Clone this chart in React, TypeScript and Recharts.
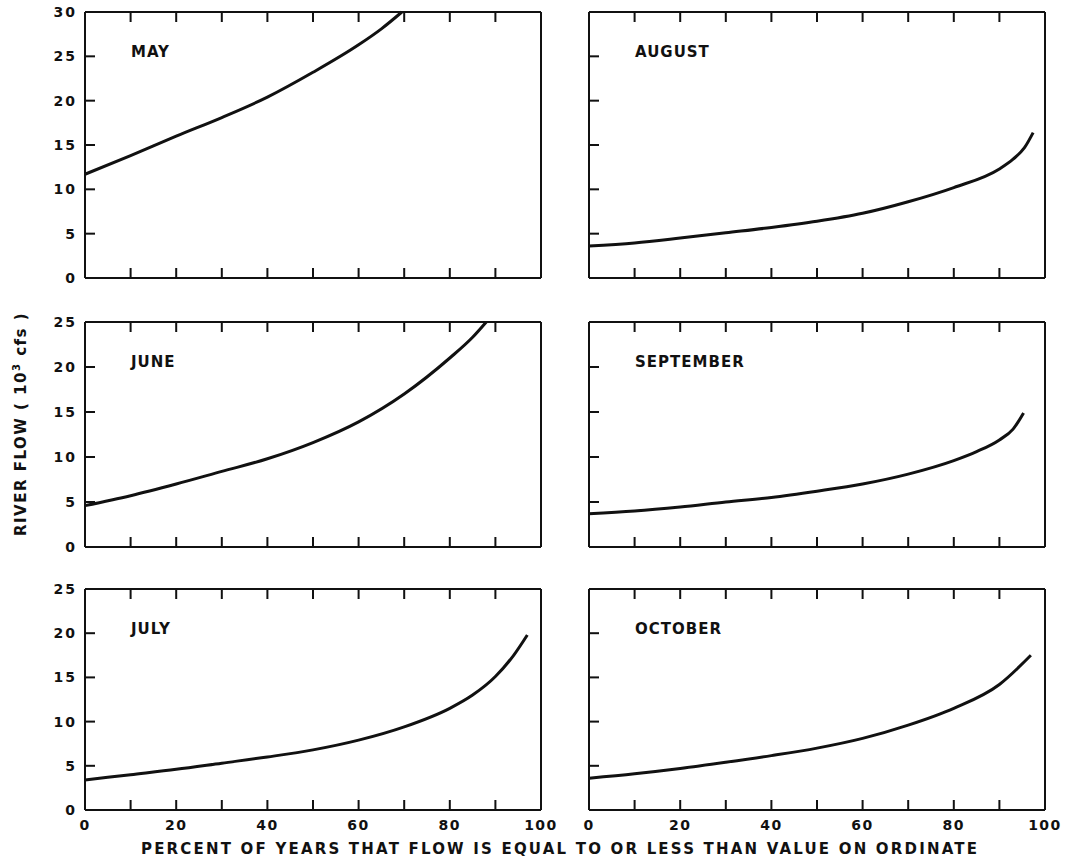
import { LineChart, Line, XAxis, YAxis } from 'recharts';

// percent of years (x) and river flow in 10^3 cfs (y)
const mayPct = [0, 10, 20, 30, 40, 50, 60, 65, 69.5];
const mayFlow = [11.7, 13.8, 16.0, 18.1, 20.4, 23.2, 26.3, 28.1, 30];

const junePct = [0, 10, 20, 30, 40, 50, 60, 70, 80, 85, 88];
const juneFlow = [4.6, 5.7, 7.0, 8.4, 9.8, 11.6, 13.9, 17.0, 21.0, 23.3, 25];

const julyPct = [0, 10, 20, 30, 40, 50, 60, 70, 80, 85, 90, 94, 97];
const julyFlow = [3.4, 4.0, 4.6, 5.3, 6.0, 6.8, 7.9, 9.4, 11.5, 13.0, 15.1, 17.5, 19.8];

const augPct = [0, 10, 20, 30, 40, 50, 60, 70, 80, 90, 93, 95.5, 97.4];
const augFlow = [3.6, 3.95, 4.5, 5.1, 5.7, 6.4, 7.3, 8.6, 10.2, 12.3, 13.4, 14.7, 16.4];

const sepPct = [0, 10, 20, 30, 40, 50, 60, 70, 80, 85, 90, 93, 95.3];
const sepFlow = [3.7, 4.0, 4.45, 5.0, 5.5, 6.2, 7.0, 8.1, 9.6, 10.6, 11.9, 13.1, 14.9];

const octPct = [0, 10, 20, 30, 40, 50, 60, 70, 80, 90, 96.9];
const octFlow = [3.6, 4.1, 4.7, 5.4, 6.15, 7.0, 8.1, 9.6, 11.5, 14.2, 17.5];

const xTicks = [0, 10, 20, 30, 40, 50, 60, 70, 80, 90, 100];
const yTicks30 = [0, 5, 10, 15, 20, 25, 30];
const yTicks25 = [0, 5, 10, 15, 20, 25];

const FONT = '"DejaVu Sans", sans-serif';
const INK = '#111';
const ML = 80;
const MR = 20;
const MT = 10;
const MB = 30;
const PW = 456;
const TICK = 10;

const toRows = (pct: number[], flow: number[]) => pct.map((p, i) => ({ pct: p, flow: flow[i] }));

type PanelProps = {
    name: string;
    pct: number[];
    flow: number[];
    left: number;
    top: number;
    height: number;
    yMax: number;
    yTicks: number[];
    showY: boolean;
    showX: boolean;
};

function Panel({ name, pct, flow, left, top, height, yMax, yTicks, showY, showX }: PanelProps) {
    const data = toRows(pct, flow);
    const w = ML + PW + MR;
    const h = MT + height + MB;
    const bottom = MT + height;
    const right = ML + PW;

    // inward tick marks at each axis tick position, labels outside the frame
    const bottomTick = (p: any) => (
        <g>
            <rect x={p.x - 1} y={bottom - TICK} width={2} height={TICK} fill={INK} />
            {showX && p.payload.value % 20 === 0 && (
                <text x={p.x} y={bottom + 20} textAnchor="middle" fontFamily={FONT} fontWeight="bold"
                    fontSize={14} letterSpacing={1.5} fill={INK}>
                    {p.payload.value}
                </text>
            )}
        </g>
    );

    const topTick = (p: any) => (
        <rect x={p.x - 1} y={MT} width={2} height={TICK} fill={INK} />
    );

    const leftTick = (p: any) => (
        <g>
            <rect x={ML} y={p.y - 1} width={TICK} height={2} fill={INK} />
            {showY && (
                <text x={ML - 8} y={p.y} dy="0.36em" textAnchor="end" fontFamily={FONT} fontWeight="bold"
                    fontSize={14} letterSpacing={2} fill={INK}>
                    {p.payload.value}
                </text>
            )}
        </g>
    );

    const rightTick = (p: any) => (
        <rect x={right - TICK} y={p.y - 1} width={TICK} height={2} fill={INK} />
    );

    const common = {
        stroke: INK,
        strokeWidth: 2,
        tickLine: false,
        interval: 0 as const,
        mirror: true,
        type: 'number' as const,
    };

    return (
        <div style={{ position: 'absolute', left: left - ML, top: top - MT }}>
            <LineChart width={w} height={h} data={data} margin={{ top: MT, right: MR, bottom: MB, left: ML }}>
                <XAxis xAxisId="b" dataKey="pct" orientation="bottom" domain={[0, 100]} ticks={xTicks}
                    tick={bottomTick} {...common} />
                <XAxis xAxisId="t" dataKey="pct" orientation="top" domain={[0, 100]} ticks={xTicks}
                    tick={topTick} {...common} />
                <YAxis yAxisId="l" orientation="left" domain={[0, yMax]} ticks={yTicks}
                    tick={leftTick} {...common} />
                <YAxis yAxisId="r" orientation="right" domain={[0, yMax]} ticks={yTicks}
                    tick={rightTick} {...common} />
                <Line xAxisId="b" yAxisId="l" dataKey="flow" type="monotone" stroke={INK} strokeWidth={3}
                    dot={false} isAnimationActive={false} />
                <text x={ML + 46} y={MT + 45} fontFamily={FONT} fontWeight="bold" fontSize={15}
                    letterSpacing={1} fill={INK}>
                    {name}
                </text>
            </LineChart>
        </div>
    );
}

export default function App() {
    const L = 85;
    const R = 589;
    return (
        <div style={{ position: 'absolute', left: 0, top: 0, width: 1070, height: 861, background: '#fff' }}>
            <Panel name="MAY" pct={mayPct} flow={mayFlow} left={L} top={12} height={266} yMax={30} yTicks={yTicks30} showY showX={false} />
            <Panel name="JUNE" pct={junePct} flow={juneFlow} left={L} top={322} height={225} yMax={25} yTicks={yTicks25} showY showX={false} />
            <Panel name="JULY" pct={julyPct} flow={julyFlow} left={L} top={589} height={221} yMax={25} yTicks={yTicks25} showY showX />
            <Panel name="AUGUST" pct={augPct} flow={augFlow} left={R} top={12} height={266} yMax={30} yTicks={yTicks30} showY={false} showX={false} />
            <Panel name="SEPTEMBER" pct={sepPct} flow={sepFlow} left={R} top={322} height={225} yMax={25} yTicks={yTicks25} showY={false} showX={false} />
            <Panel name="OCTOBER" pct={octPct} flow={octFlow} left={R} top={589} height={221} yMax={25} yTicks={yTicks25} showY={false} showX />
            <svg width={1070} height={861} style={{ position: 'absolute', left: 0, top: 0, pointerEvents: 'none' }}>
                <text transform="translate(26,424) rotate(-90)" textAnchor="middle" fontFamily={FONT}
                    fontWeight="bold" fontSize={15} letterSpacing={1.5} fill={INK}>
                    RIVER FLOW ( 10<tspan dy={-6} fontSize={10}>3</tspan><tspan dy={6}> cfs )</tspan>
                </text>
                <text x={141} y={854} textLength={836} lengthAdjust="spacing" fontFamily={FONT}
                    fontWeight="bold" fontSize={15} fill={INK}>
                    PERCENT OF YEARS THAT FLOW IS EQUAL TO OR LESS THAN VALUE ON ORDINATE
                </text>
            </svg>
        </div>
    );
}
